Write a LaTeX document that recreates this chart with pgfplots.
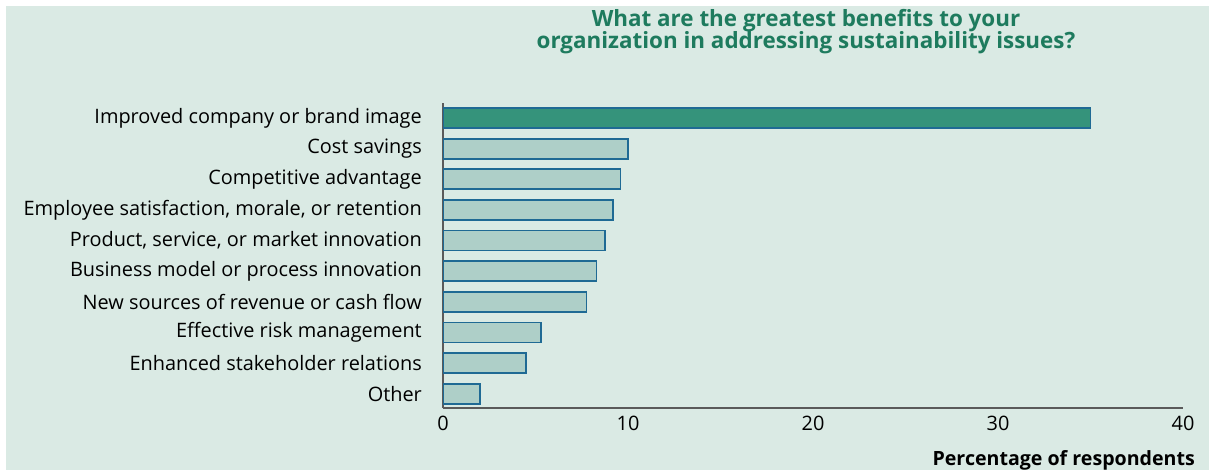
\documentclass[border=0pt]{standalone}
\usepackage{pgfplots}
\pgfplotsset{compat=1.18}
\usepackage{fontspec}
\setmainfont{Open Sans}
\definecolor{bgc}{HTML}{DAEAE4}
\definecolor{hib}{HTML}{35937B}
\definecolor{lob}{HTML}{AECFC8}
\definecolor{edg}{HTML}{1F6A94}
\definecolor{ttl}{HTML}{1E7B5E}
\definecolor{axc}{HTML}{5A5A5A}
\begin{document}
\begin{tikzpicture}
\useasboundingbox (0,0) rectangle (1209bp,470bp);
\fill[bgc] (6bp,0) rectangle (1209bp,464bp);
\begin{axis}[
  at={(443bp,62bp)}, anchor=south west,
  scale only axis, width=740bp, height=305bp,
  xmin=0, xmax=40, ymin=-0.46, ymax=9.49,
  xbar, bar width=20bp,
  axis x line*=bottom, axis y line*=left,
  axis line style={axc, line width=2bp},
  major tick length=0pt,
  xtick={0,10,20,30,40},
  ytick={0,1,2,3,4,5,6,7,8,9},
  yticklabels={Other, Enhanced stakeholder relations, Effective risk management, New sources of revenue or cash flow, Business model or process innovation, {Product, service, or market innovation\hspace{6bp}}, {Employee satisfaction, morale, or retention\hspace{6bp}}, Competitive advantage, Cost savings, Improved company or brand image},
  /pgf/number format/assume math mode=true,
  tick label style={font=\fontsize{19.9bp}{22bp}\selectfont, inner sep=0pt},
  yticklabel style={anchor=east, xshift=-21bp},
  xticklabel style={anchor=north, yshift=-8bp},
  xlabel={\bfseries Percentage of respondents},
  xlabel style={at={(axis description cs:1,0)}, anchor=base east, inner sep=0pt, xshift=12bp, yshift=-57bp, font=\fontsize{19.6bp}{22bp}\selectfont},
  title={What are the greatest benefits to your\\organization in addressing sustainability issues?},
  title style={at={(axis description cs:0.5,1)}, anchor=north, inner sep=0pt, align=center, xshift=-7bp, yshift=88bp, text=ttl, font=\bfseries\fontsize{22.4bp}{22.5bp}\selectfont},
]
\addplot[bar shift=0pt, fill=lob, draw=edg, line width=1.7bp] coordinates {
  (2.0,0) (4.5,1) (5.3,2) (7.75,3) (8.3,4) (8.75,5) (9.2,6) (9.6,7) (10.0,8)
};
\addplot[bar shift=0pt, fill=hib, draw=edg, line width=1.7bp] coordinates {
  (35.0,9)
};
\end{axis}
\end{tikzpicture}
\end{document}
